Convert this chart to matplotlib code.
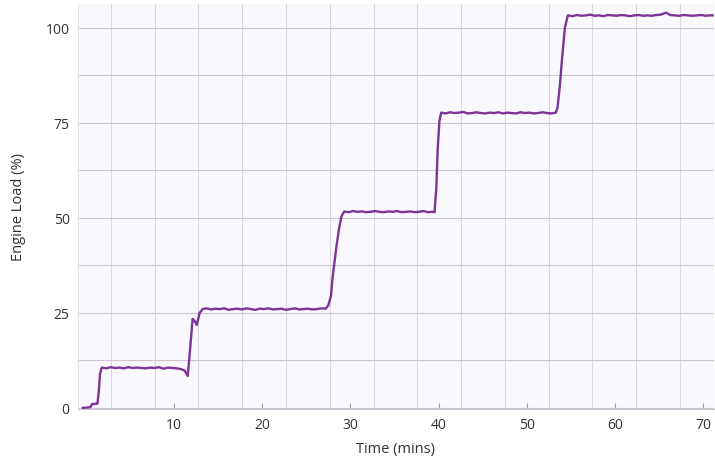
import numpy as np
import matplotlib
matplotlib.use("Agg")
from matplotlib import pyplot as plt
from matplotlib.ticker import FixedLocator, MultipleLocator

plt.rcParams['font.family'] = ['Open Sans', 'DejaVu Sans']

# engine load trace (time in mins, load in %)
start_t = [-0.35, 0.2, 0.5, 0.7, 1.3, 1.45, 1.6]
start_load = [0.0, 0.1, 0.2, 1.0, 1.1, 4.0, 9.0]

step1_t = [1.8, 2.3, 2.8, 3.3, 3.8, 4.3, 4.8, 5.3, 5.8, 6.3, 6.8, 7.3, 7.8, 8.3,
           8.8, 9.3, 9.8, 10.3, 10.8, 11.2]
step1_load = [10.6, 10.4, 10.7, 10.5, 10.6, 10.4, 10.7, 10.5, 10.6, 10.5, 10.4, 10.6,
              10.5, 10.7, 10.3, 10.6, 10.5, 10.4, 10.2, 9.8]

rise2_t = [11.4, 11.55, 11.8, 12.1, 12.3, 12.57, 12.9]
rise2_load = [9.0, 8.4, 15.0, 23.4, 23.0, 21.8, 25.0]

step2_t = [13.25, 13.7, 14.2, 14.7, 15.2, 15.7, 16.2, 16.7, 17.2, 17.7, 18.2, 18.7,
           19.2, 19.7, 20.2, 20.7, 21.2, 21.7, 22.2, 22.7, 23.2, 23.7, 24.2, 24.7,
           25.2, 25.7, 26.2, 26.7, 27.2]
step2_load = [26.0, 26.2, 25.9, 26.1, 26.0, 26.2, 25.8, 26.0, 26.1, 25.9, 26.2, 26.0,
              25.8, 26.1, 26.0, 26.2, 25.9, 26.0, 26.1, 25.8, 26.0, 26.2, 25.9, 26.0,
              26.1, 25.9, 26.0, 26.2, 26.1]

rise3_t = [27.5, 27.8, 27.96, 28.2, 28.42, 28.7, 28.98]
rise3_load = [27.0, 29.5, 33.9, 38.5, 42.5, 47.0, 50.4]

step3_t = [29.3, 29.8, 30.3, 30.8, 31.3, 31.8, 32.3, 32.8, 33.3, 33.8, 34.3, 34.8,
           35.3, 35.8, 36.3, 36.8, 37.3, 37.8, 38.3, 38.8, 39.3]
step3_load = [51.7, 51.5, 51.8, 51.6, 51.7, 51.5, 51.6, 51.8, 51.6, 51.5, 51.7, 51.6,
              51.8, 51.5, 51.6, 51.7, 51.5, 51.6, 51.8, 51.5, 51.6]

rise4_t = [39.55, 39.75, 39.9, 40.1]
rise4_load = [51.5, 58.0, 68.0, 75.5]

step4_t = [40.3, 40.8, 41.3, 41.8, 42.3, 42.8, 43.3, 43.8, 44.3, 44.8, 45.3, 45.8,
           46.3, 46.8, 47.3, 47.8, 48.3, 48.8, 49.3, 49.8, 50.3, 50.8, 51.3, 51.8,
           52.3, 52.8, 53.3]
step4_load = [77.7, 77.5, 77.8, 77.6, 77.7, 77.9, 77.5, 77.6, 77.8, 77.6, 77.5, 77.7,
              77.6, 77.8, 77.5, 77.7, 77.6, 77.5, 77.8, 77.6, 77.7, 77.5, 77.6, 77.8,
              77.6, 77.5, 77.7]

rise5_t = [53.5, 53.77, 54.0, 54.33]
rise5_load = [79.0, 85.0, 91.6, 100.0]

step5_t = [54.67, 55.2, 55.7, 56.2, 56.7, 57.2, 57.7, 58.2, 58.7, 59.2, 59.7, 60.2,
           60.7, 61.2, 61.7, 62.2, 62.7, 63.2, 63.7, 64.2, 64.7, 65.2, 65.8, 66.3,
           66.8, 67.3, 67.8, 68.3, 68.8, 69.3, 69.8, 70.3, 70.8, 71.1]
step5_load = [103.3, 103.1, 103.4, 103.2, 103.3, 103.5, 103.2, 103.3, 103.1, 103.4,
              103.3, 103.2, 103.4, 103.3, 103.1, 103.3, 103.4, 103.2, 103.3, 103.2,
              103.4, 103.5, 104.0, 103.4, 103.3, 103.2, 103.4, 103.3, 103.2, 103.3,
              103.4, 103.2, 103.3, 103.3]

x_ticks = [10, 20, 30, 40, 50, 60, 70]
y_ticks = [0, 25, 50, 75, 100]

time_min = np.concatenate([start_t, step1_t, rise2_t, step2_t, rise3_t, step3_t,
                           rise4_t, step4_t, rise5_t, step5_t])
load_pct = np.concatenate([start_load, step1_load, rise2_load, step2_load, rise3_load,
                           step3_load, rise4_load, step4_load, rise5_load, step5_load])

fig = plt.figure(figsize=(7.15, 4.6), dpi=100)
ax = fig.add_axes([78 / 715, 1 - 410 / 460, 1 - 78 / 715 - 0.002, 405 / 460])
ax.set_facecolor('#f9f8fd')

ax.plot(time_min, load_pct, color='#7b3596', lw=1.7, solid_joinstyle='round')

ax.set_xlim(-0.9, 71.2)
ax.set_ylim(-0.3, 106.3)

ax.xaxis.set_major_locator(FixedLocator(x_ticks))
# vertical grid in the source is not tied to the tick labels
ax.xaxis.set_minor_locator(FixedLocator(np.arange(2.84, 71, 4.964)))
ax.yaxis.set_major_locator(FixedLocator(y_ticks))
ax.yaxis.set_minor_locator(MultipleLocator(12.5))

ax.grid(which='minor', axis='x', color='#d8d7de', lw=0.8)
ax.grid(which='both', axis='y', color='#cdc2d1', lw=0.8)
ax.set_axisbelow(True)

ax.tick_params(axis='x', which='major', direction='in', length=4, color='#a0a0a0',
               labelsize=10, pad=6, labelcolor='#333333')
ax.tick_params(axis='x', which='minor', length=0)
ax.tick_params(axis='y', which='both', length=0, labelsize=10, pad=6, labelcolor='#333333')

for side in ['top', 'right']:
    ax.spines[side].set_visible(False)
ax.spines['left'].set_color('#e4e3ea')
ax.spines['bottom'].set_color('#c8c6cc')

ax.set_xlabel('Time (mins)', fontsize=10.5, color='#333333', labelpad=6)
ax.set_ylabel('Engine Load (%)', fontsize=10.5, color='#333333', labelpad=14)

fig.savefig('out.png', dpi=100)
